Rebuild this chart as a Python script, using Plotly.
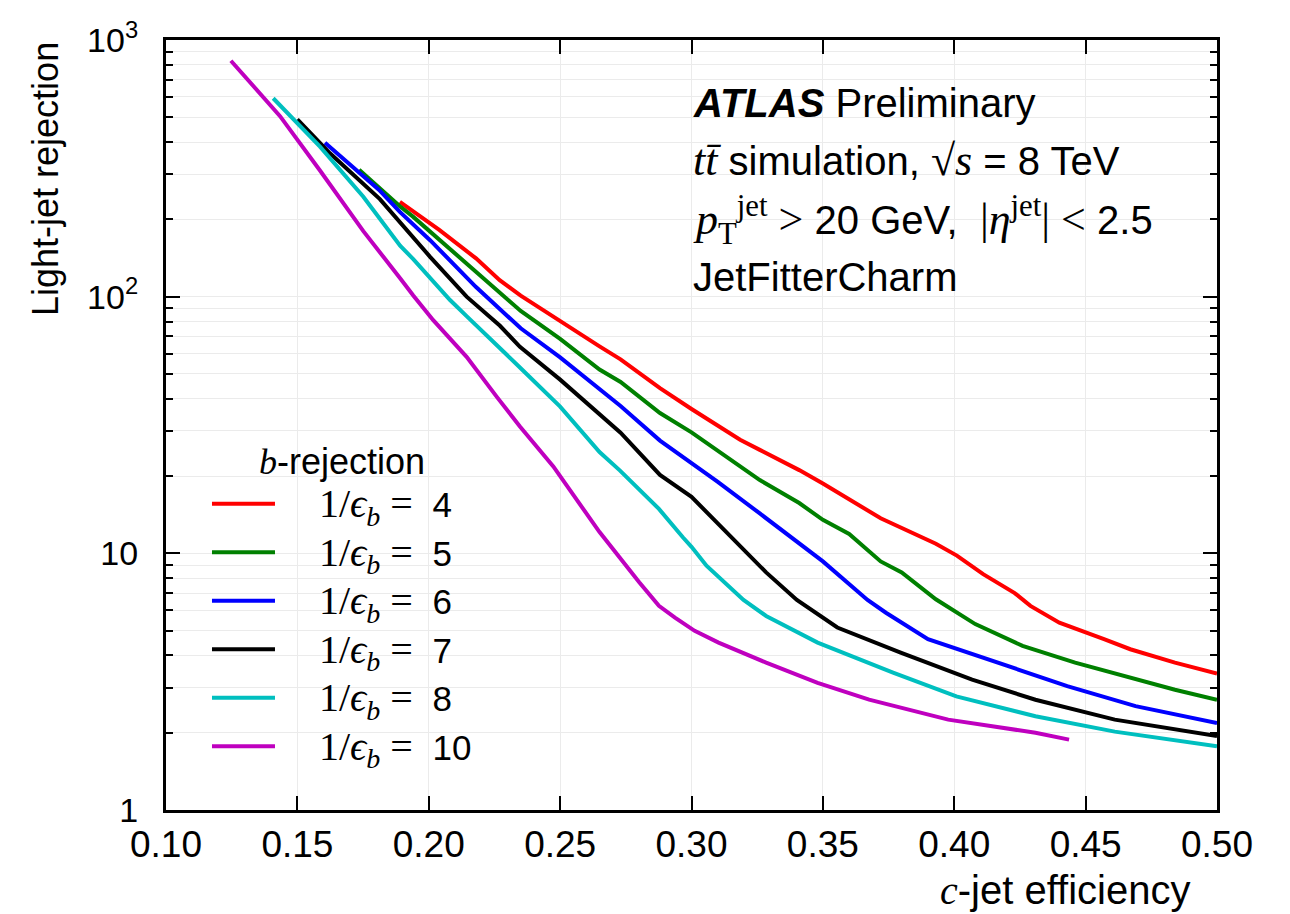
import plotly.graph_objects as go

# ---- data ----
red_x = [0.189, 0.204, 0.218, 0.227, 0.235, 0.250, 0.265, 0.273, 0.288, 0.300, 0.3185, 0.326, 0.341, 0.350,
         0.360, 0.372, 0.393, 0.401, 0.411, 0.423, 0.429, 0.440, 0.457, 0.467, 0.484, 0.500]
red_y = [234, 182, 141, 116, 101, 80, 64, 57, 44, 36.5, 27.7, 25.3, 21.1, 18.7,
         16.2, 13.7, 10.9, 9.8, 8.3, 7.0, 6.24, 5.37, 4.63, 4.23, 3.75, 3.40]

green_x = [0.1735, 0.189, 0.194, 0.218, 0.227, 0.235, 0.250, 0.265, 0.273, 0.288, 0.300, 0.3185, 0.326, 0.341,
           0.350, 0.360, 0.372, 0.380, 0.393, 0.408, 0.426, 0.446, 0.469, 0.484, 0.500]
green_y = [312, 225, 205, 125, 104, 88, 68.5, 52, 46.5, 35.2, 29.6, 21.8, 19.3, 15.7,
           13.5, 11.9, 9.3, 8.43, 6.62, 5.30, 4.36, 3.75, 3.22, 2.94, 2.69]

blue_x = [0.1605, 0.181, 0.189, 0.2005, 0.218, 0.227, 0.235, 0.250, 0.273, 0.288, 0.300, 0.310, 0.326,
          0.350, 0.367, 0.374, 0.390, 0.416, 0.443, 0.469, 0.500]
blue_y = [398, 261, 214, 166, 109, 90, 75.3, 58, 37.5, 27.5, 22.5, 19.0, 14.3,
          9.3, 6.58, 5.87, 4.63, 3.75, 3.04, 2.54, 2.18]

black_x = [0.150, 0.1624, 0.1814, 0.1891, 0.2005, 0.2144, 0.2271, 0.2347, 0.250, 0.273, 0.288, 0.300, 0.313,
           0.3198, 0.3284, 0.3401, 0.3434, 0.3555, 0.3796, 0.4068, 0.4309, 0.4611, 0.500]
black_y = [491, 362, 240, 194, 143, 100, 77, 63.8, 47.5, 29.5, 20.2, 16.6, 12.2,
           10.3, 8.43, 6.58, 6.24, 5.14, 4.10, 3.22, 2.69, 2.25, 1.94]

cyan_x = [0.1408, 0.1586, 0.1751, 0.1891, 0.1941, 0.2081, 0.2144, 0.2195, 0.2347, 0.250, 0.265, 0.2728,
          0.2876, 0.2967, 0.300, 0.3057, 0.3198, 0.3284, 0.3480, 0.3767, 0.4008, 0.4309, 0.4611, 0.500]
cyan_y = [593, 384, 245, 158, 140, 97, 84, 75, 53, 37.3, 24.8, 21,
          14.9, 11.55, 10.6, 8.95, 6.58, 5.70, 4.49, 3.43, 2.77, 2.32, 2.02, 1.77]

magenta_x = [0.1247, 0.1434, 0.1586, 0.1751, 0.1891, 0.1941, 0.2017, 0.2144, 0.2259, 0.2347, 0.2474, 0.2563,
             0.265, 0.2801, 0.2876, 0.2937, 0.3012, 0.3103, 0.3284, 0.3480, 0.3676, 0.3977, 0.4309, 0.4437]
magenta_y = [830, 505, 310, 180, 118, 101, 81, 58.3, 40.7, 31.2, 21.8, 16.1,
             12.1, 7.71, 6.24, 5.62, 4.99, 4.49, 3.75, 3.13, 2.69, 2.25, 2.00, 1.88]

b_rejections = ["4", "5", "6", "7", "8", "10"]
series_x = [red_x, green_x, blue_x, black_x, cyan_x, magenta_x]
series_y = [red_y, green_y, blue_y, black_y, cyan_y, magenta_y]
colors = ["#ff0000", "#008000", "#0000ff", "#000000", "#00bfbf", "#bf00bf"]

x_ticks = [0.10, 0.15, 0.20, 0.25, 0.30, 0.35, 0.40, 0.45, 0.50]
y_ticks = [1, 10, 100, 1000]
y_ticktext = ["1", "10", "10<sup>2</sup>", "10<sup>3</sup>"]

SANS = "Liberation Sans, Arial, Helvetica, sans-serif"
SERIF = "Liberation Serif, DejaVu Serif, serif"

fig = go.Figure()
for xs, ys, col, lab in zip(series_x, series_y, colors, b_rejections):
    name = ("\u00a0\u00a0\u00a0\u00a0<span style='font-family:%s;font-size:40px'>1/<i>ϵ</i><sub><i>b</i></sub>"
            "\u00a0=\u00a0</span> %s" % (SERIF, lab))
    fig.add_trace(go.Scatter(x=xs, y=ys, mode="lines", name=name,
                             line=dict(color=col, width=4)))

minor_vals = [m * 10 ** d for d in range(0, 3) for m in range(2, 10)]
grid_col = "#ebebeb"

fig.update_layout(
    width=1290, height=914,
    margin=dict(l=166, r=73, t=40, b=104),
    paper_bgcolor="white", plot_bgcolor="white",
    font=dict(family=SANS, color="black", size=34),
    showlegend=True,
    legend=dict(
        x=0.039, y=0.4965, xanchor="left", yanchor="top",
        bgcolor="rgba(0,0,0,0)",
        font=dict(size=35, family=SANS),
        itemwidth=63,
        title=dict(text="<span style='font-family:%s'><i>b</i></span>-rejection" % SERIF,
                   side="top center", font=dict(size=36, family=SANS)),
    ),
    xaxis=dict(
        range=[0.1, 0.5], tickmode="array", tickvals=x_ticks,
        ticktext=["%.2f" % v for v in x_ticks],
        ticks="inside", ticklen=14, tickwidth=2, tickcolor="black",
        showline=True, linewidth=3, linecolor="black", mirror="allticks",
        showgrid=True, gridcolor=grid_col, gridwidth=1,
        tickfont=dict(size=37, family=SANS),
        ticklabelstandoff=0, zeroline=False,
    ),
    yaxis=dict(
        type="log", range=[0, 3], tickmode="array", tickvals=y_ticks, ticktext=y_ticktext,
        ticks="inside", ticklen=14, tickwidth=2, tickcolor="black",
        showline=True, linewidth=3, linecolor="black", mirror="allticks",
        showgrid=True, gridcolor=grid_col, gridwidth=1,
        tickfont=dict(size=34, family=SANS),
        ticklabelstandoff=18, zeroline=False,
        minor=dict(tickmode="array", tickvals=minor_vals, ticks="inside", ticklen=7,
                   tickwidth=2, tickcolor="black", showgrid=True, gridcolor=grid_col, gridwidth=1),
    ),
)

# axis titles
fig.add_annotation(xref="paper", yref="paper", x=(1192 - 166) / 1051, y=-(890 - 810) / 770,
                   xanchor="right", yanchor="middle", showarrow=False,
                   text="<span style='font-family:%s'><i>c</i></span>-jet efficiency" % SERIF,
                   font=dict(size=40, family=SANS))
fig.add_annotation(xref="paper", yref="paper", x=-(166 - 45) / 1051, y=1.0,
                   xanchor="center", yanchor="top", showarrow=False, textangle=-90,
                   text="Light-jet rejection", font=dict(size=36, family=SANS))

# ATLAS label block
M = "font-family:%s;font-size:44px" % SERIF
lines = [
    "<b><i>ATLAS</i></b> Preliminary",
    "<span style='%s'><i>tt̄</i></span> simulation, <span style='%s'>√<i>s</i></span> = 8 TeV" % (M, M),
    "<span style='%s'><i>p</i><sub>T</sub><sup>jet</sup> &gt;</span> 20 GeV,  <span style='%s'>|<i>η</i><sup>jet</sup>| &lt;</span> 2.5" % (M, M),
    "JetFitterCharm",
]
line_py = [103, 160, 220, 277]
for txt, py in zip(lines, line_py):
    fig.add_annotation(xref="paper", yref="paper", x=(691 - 166) / 1051, y=(810 - py) / 770,
                       xanchor="left", yanchor="middle", showarrow=False, text=txt,
                       font=dict(size=40, family=SANS))

fig.write_html("out.html")
